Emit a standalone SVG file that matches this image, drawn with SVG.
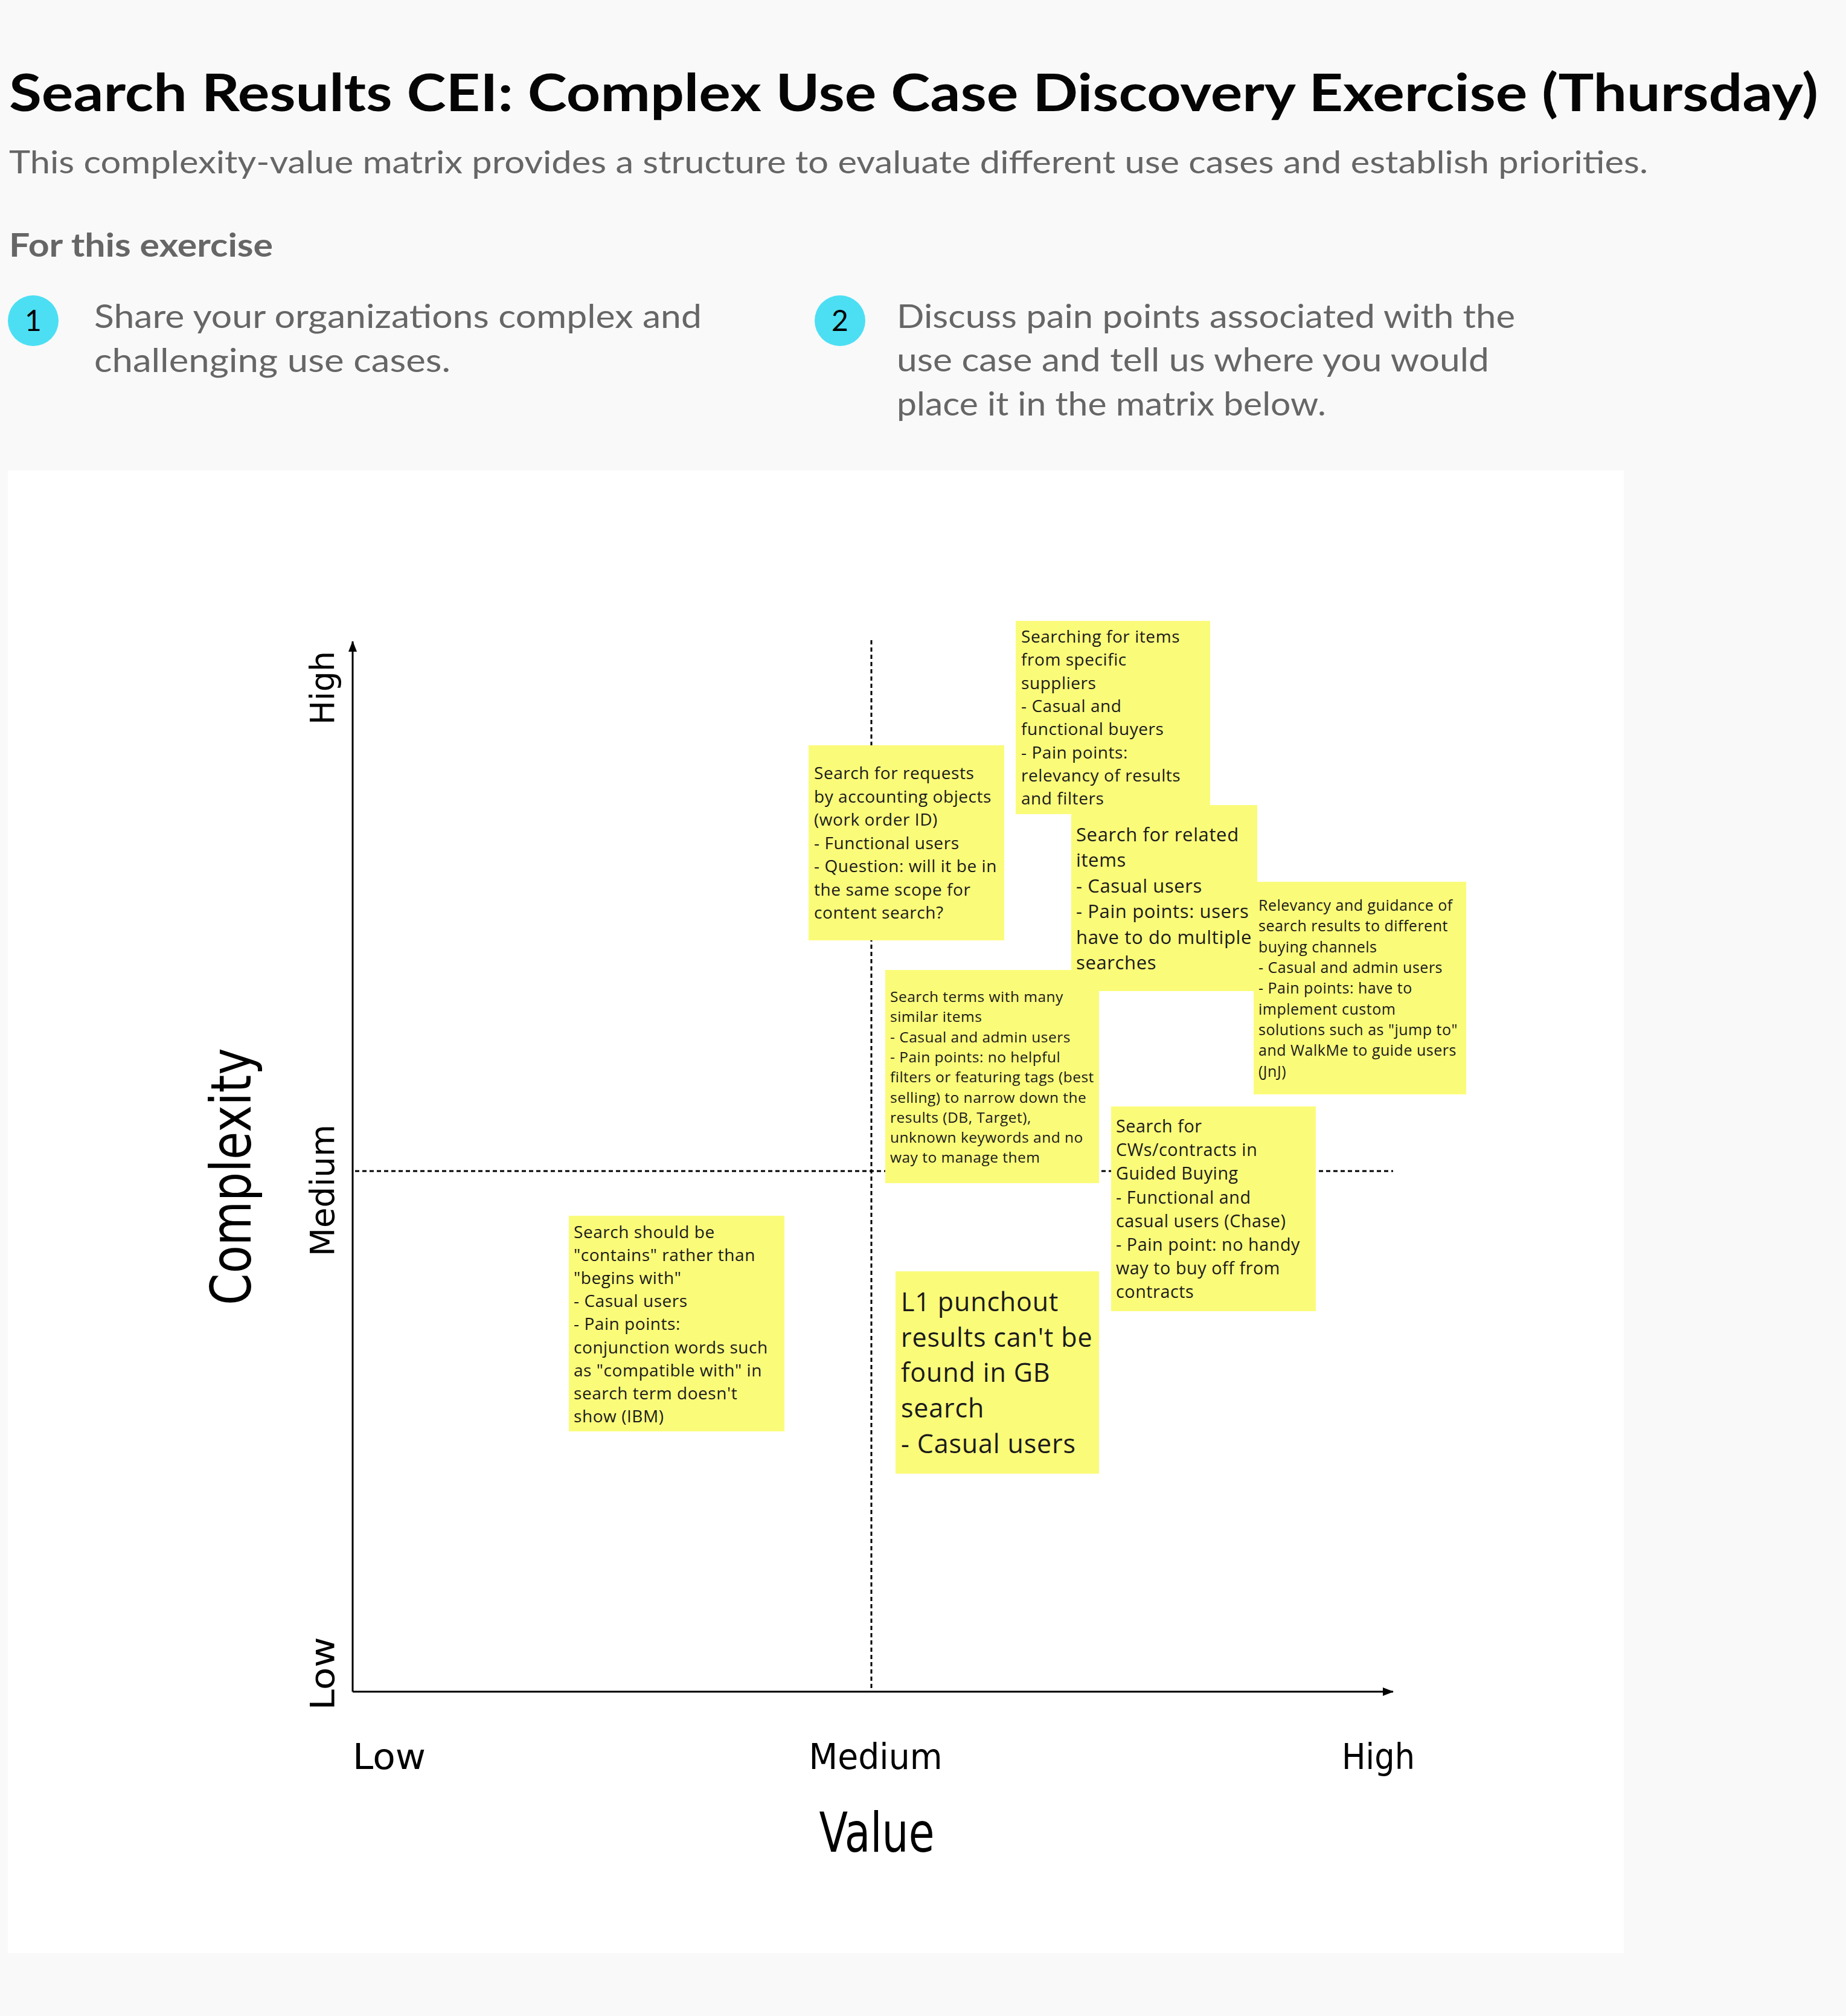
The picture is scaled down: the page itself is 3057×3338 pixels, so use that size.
<svg xmlns="http://www.w3.org/2000/svg" width="3057" height="3338" viewBox="0 0 3057 3338">
<defs>
<style>
.hdr{font-family:Lato,"Noto Sans",sans-serif;}
.title{font-size:87px;font-weight:700;fill:#050505;}
.sub{font-size:52px;fill:#666666;}
.sec{font-size:54px;font-weight:700;fill:#666666;}
.item{font-size:54px;fill:#666666;}
.num{font-size:48px;fill:#000000;text-anchor:middle;}
.circ{fill:#4cdff3;}
.note{fill:#fbfb7a;}
.nt{font-family:"Open Sans","Noto Sans",sans-serif;fill:#1a1a1a;letter-spacing:0.02em;}
.hand{font-family:"DejaVu Sans",sans-serif;fill:#000000;}
.axis{stroke:#000000;stroke-width:3;fill:none;}
.dash{stroke:#000000;stroke-width:3;stroke-dasharray:7 5;fill:none;}
</style>
<marker id="arrow" markerUnits="userSpaceOnUse" markerWidth="18" markerHeight="14" refX="17" refY="7" orient="auto">
<path d="M0,0 L18,7 L0,14 z" fill="#000000"/>
</marker>
</defs>
<rect x="0" y="0" width="3057" height="3338" fill="#f9f9f9"/>

<g id="header" class="hdr">
<text class="title" x="15" y="184" textLength="2996" lengthAdjust="spacingAndGlyphs">Search Results CEI: Complex Use Case Discovery Exercise (Thursday)</text>
<text class="sub" x="15" y="287" textLength="2714" lengthAdjust="spacingAndGlyphs">This complexity-value matrix provides a structure to evaluate different use cases and establish priorities.</text>
<text class="sec" x="15" y="425" textLength="437" lengthAdjust="spacingAndGlyphs">For this exercise</text>
</g>

<g id="step1" class="hdr">
<circle class="circ" cx="55" cy="531" r="42"/>
<text class="num" x="55" y="548">1</text>
<text class="item" x="156" y="543" textLength="1006" lengthAdjust="spacingAndGlyphs">Share your organizations complex and</text>
<text class="item" x="156" y="616" textLength="590" lengthAdjust="spacingAndGlyphs">challenging use cases.</text>
</g>

<g id="step2" class="hdr">
<circle class="circ" cx="1391" cy="531" r="42"/>
<text class="num" x="1391" y="548">2</text>
<text class="item" x="1485" y="543" textLength="1024" lengthAdjust="spacingAndGlyphs">Discuss pain points associated with the</text>
<text class="item" x="1485" y="615" textLength="981" lengthAdjust="spacingAndGlyphs">use case and tell us where you would</text>
<text class="item" x="1485" y="688" textLength="711" lengthAdjust="spacingAndGlyphs">place it in the matrix below.</text>
</g>

<rect id="panel" x="13" y="779" width="2676" height="2455" fill="#ffffff"/>

<g id="connectors">
<line class="dash" x1="1443" y1="1060" x2="1443" y2="2799"/>
<line class="dash" x1="588" y1="1939" x2="2307" y2="1939"/>
<line class="axis" x1="584" y1="2801" x2="584" y2="1062" marker-end="url(#arrow)"/>
<line class="axis" x1="584" y1="2801" x2="2307" y2="2801" marker-end="url(#arrow)"/>
</g>

<g id="axis-labels" class="hand">
<text x="553" y="1139" font-size="56" text-anchor="middle" textLength="122" lengthAdjust="spacingAndGlyphs" transform="rotate(-90 553 1139)">High</text>
<text x="553" y="1971" font-size="56" text-anchor="middle" textLength="218" lengthAdjust="spacingAndGlyphs" transform="rotate(-90 553 1971)">Medium</text>
<text x="553" y="2771" font-size="56" text-anchor="middle" textLength="121" lengthAdjust="spacingAndGlyphs" transform="rotate(-90 553 2771)">Low</text>
<text x="415" y="1948" font-size="92" text-anchor="middle" textLength="426" lengthAdjust="spacingAndGlyphs" transform="rotate(-90 415 1948)">Complexity</text>
<text x="584" y="2929" font-size="58" textLength="121" lengthAdjust="spacingAndGlyphs">Low</text>
<text x="1450" y="2929" font-size="58" text-anchor="middle" textLength="221" lengthAdjust="spacingAndGlyphs">Medium</text>
<text x="2343" y="2929" font-size="58" text-anchor="end" textLength="121" lengthAdjust="spacingAndGlyphs">High</text>
<text x="1452" y="3066" font-size="90" text-anchor="middle" textLength="191" lengthAdjust="spacingAndGlyphs">Value</text>
</g>

<g id="note-suppliers">
<rect class="note" x="1682" y="1028" width="322" height="320"/>
<text class="nt" font-size="28">
<tspan x="1691" y="1064">Searching for items</tspan>
<tspan x="1691" y="1102">from specific</tspan>
<tspan x="1691" y="1141">suppliers</tspan>
<tspan x="1691" y="1179">- Casual and</tspan>
<tspan x="1691" y="1217">functional buyers</tspan>
<tspan x="1691" y="1256">- Pain points:</tspan>
<tspan x="1691" y="1294">relevancy of results</tspan>
<tspan x="1691" y="1332">and filters</tspan>
</text>
</g>

<g id="note-accounting">
<rect class="note" x="1339" y="1234" width="324" height="323"/>
<text class="nt" font-size="28">
<tspan x="1348" y="1290">Search for requests</tspan>
<tspan x="1348" y="1329">by accounting objects</tspan>
<tspan x="1348" y="1367">(work order ID)</tspan>
<tspan x="1348" y="1406">- Functional users</tspan>
<tspan x="1348" y="1444">- Question: will it be in</tspan>
<tspan x="1348" y="1483">the same scope for</tspan>
<tspan x="1348" y="1521">content search?</tspan>
</text>
</g>

<g id="note-related">
<rect class="note" x="1774" y="1333" width="308" height="308"/>
<text class="nt" font-size="31">
<tspan x="1782" y="1393">Search for related</tspan>
<tspan x="1782" y="1435">items</tspan>
<tspan x="1782" y="1478">- Casual users</tspan>
<tspan x="1782" y="1520">- Pain points: users</tspan>
<tspan x="1782" y="1563">have to do multiple</tspan>
<tspan x="1782" y="1605">searches</tspan>
</text>
</g>

<g id="note-relevancy">
<rect class="note" x="2076" y="1460" width="352" height="352"/>
<text class="nt" font-size="25">
<tspan x="2084" y="1508">Relevancy and guidance of</tspan>
<tspan x="2084" y="1542">search results to different</tspan>
<tspan x="2084" y="1577">buying channels</tspan>
<tspan x="2084" y="1611">- Casual and admin users</tspan>
<tspan x="2084" y="1645">- Pain points: have to</tspan>
<tspan x="2084" y="1680">implement custom</tspan>
<tspan x="2084" y="1714">solutions such as "jump to"</tspan>
<tspan x="2084" y="1748">and WalkMe to guide users</tspan>
<tspan x="2084" y="1783">(JnJ)</tspan>
</text>
</g>

<g id="note-similar">
<rect class="note" x="1466" y="1606" width="354" height="353"/>
<text class="nt" font-size="24.5">
<tspan x="1474" y="1659">Search terms with many</tspan>
<tspan x="1474" y="1692">similar items</tspan>
<tspan x="1474" y="1726">- Casual and admin users</tspan>
<tspan x="1474" y="1759">- Pain points: no helpful</tspan>
<tspan x="1474" y="1792">filters or featuring tags (best</tspan>
<tspan x="1474" y="1826">selling) to narrow down the</tspan>
<tspan x="1474" y="1859">results (DB, Target),</tspan>
<tspan x="1474" y="1892">unknown keywords and no</tspan>
<tspan x="1474" y="1925">way to manage them</tspan>
</text>
</g>

<g id="note-contracts">
<rect class="note" x="1840" y="1832" width="339" height="339"/>
<text class="nt" font-size="28.7">
<tspan x="1848" y="1875">Search for</tspan>
<tspan x="1848" y="1914">CWs/contracts in</tspan>
<tspan x="1848" y="1953">Guided Buying</tspan>
<tspan x="1848" y="1993">- Functional and</tspan>
<tspan x="1848" y="2032">casual users (Chase)</tspan>
<tspan x="1848" y="2071">- Pain point: no handy</tspan>
<tspan x="1848" y="2110">way to buy off from</tspan>
<tspan x="1848" y="2149">contracts</tspan>
</text>
</g>

<g id="note-contains">
<rect class="note" x="942" y="2013" width="357" height="357"/>
<text class="nt" font-size="28">
<tspan x="950" y="2050">Search should be</tspan>
<tspan x="950" y="2088">"contains" rather than</tspan>
<tspan x="950" y="2126">"begins with"</tspan>
<tspan x="950" y="2164">- Casual users</tspan>
<tspan x="950" y="2202">- Pain points:</tspan>
<tspan x="950" y="2241">conjunction words such</tspan>
<tspan x="950" y="2279">as "compatible with" in</tspan>
<tspan x="950" y="2317">search term doesn't</tspan>
<tspan x="950" y="2355">show (IBM)</tspan>
</text>
</g>

<g id="note-punchout">
<rect class="note" x="1483" y="2105" width="337" height="335"/>
<text class="nt" font-size="43">
<tspan x="1492" y="2171">L1 punchout</tspan>
<tspan x="1492" y="2230">results can't be</tspan>
<tspan x="1492" y="2288">found in GB</tspan>
<tspan x="1492" y="2347">search</tspan>
<tspan x="1492" y="2406">- Casual users</tspan>
</text>
</g>
</svg>
